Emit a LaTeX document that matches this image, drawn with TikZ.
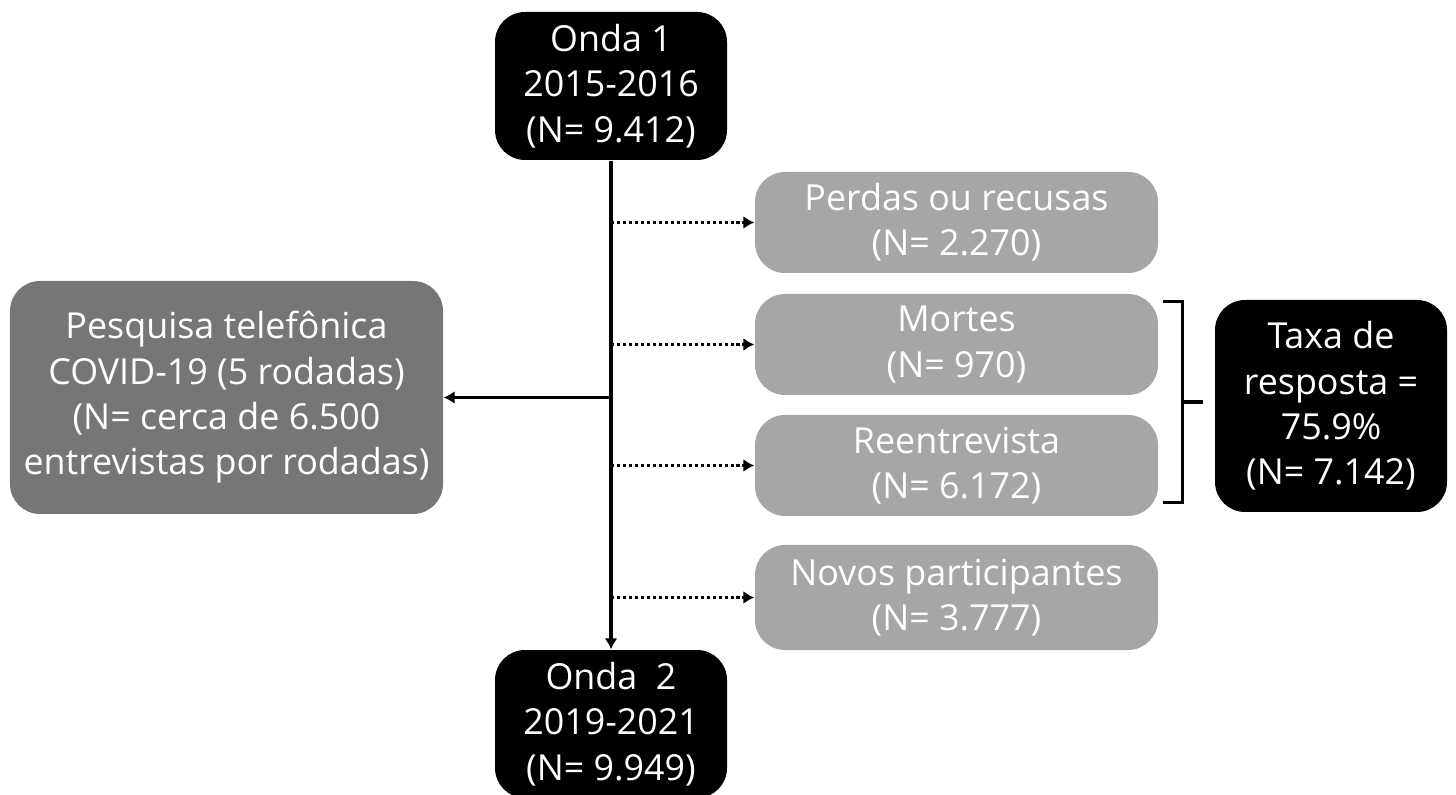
\documentclass[tikz,border=0pt]{standalone}
\usepackage{fontspec}
\setmainfont{Open Sans}
\usepackage{xcolor}
\usetikzlibrary{positioning, calc, arrows.meta}

\definecolor{darkbox}{HTML}{767676}
\definecolor{lightbox}{HTML}{A6A6A6}

\begin{document}
\begin{tikzpicture}[>={Latex[length=1.1mm,width=1.3mm]},
    box/.style={rounded corners=0.3cm, text=white, align=center,
        font=\fontsize{10.2}{12.9}\selectfont, inner sep=0pt},
    blackbox/.style={box, fill=black, minimum width=2.32cm, minimum height=1.48cm},
    graybox/.style={box, fill=lightbox, minimum width=4.03cm, minimum height=1.01cm},
    covidbox/.style={box, fill=darkbox, minimum width=4.33cm, minimum height=2.33cm},
    mainline/.style={line width=0.95pt},
    dotline/.style={line width=0.95pt, dash pattern=on 0.9pt off 0.8pt, ->}]

    \useasboundingbox (0,0) rectangle (14.56,-7.95);

    % Waves
    \node[blackbox] (onda1) at (6.11,-0.86) {Onda 1\\2015-2016\\(N= 9.412)};
    \node[blackbox] (onda2) at (6.11,-7.24) {Onda\ \ 2\\2019-2021\\(N= 9.949)};

    % Side boxes
    \node[covidbox] (covid) at (2.265,-3.975) {Pesquisa telefônica\\COVID-19 (5 rodadas)\\(N= cerca de 6.500\\entrevistas por rodadas)};
    \node[graybox] (perdas) at (9.565,-2.225) {Perdas ou recusas\\(N= 2.270)};
    \node[graybox] (mortes) at (9.565,-3.445) {Mortes\\(N= 970)};
    \node[graybox] (reent) at (9.565,-4.655) {Reentrevista\\(N= 6.172)};
    \node[graybox, minimum height=1.05cm] (novos) at (9.565,-5.975) {Novos participantes\\(N= 3.777)};
    \node[blackbox, minimum height=2.12cm] (taxa) at (13.31,-4.06) {Taxa de\\resposta =\\75.9\%\\(N= 7.142)};

    % Main line
    \draw[mainline, ->] (onda1) -- (onda2);
    \draw[mainline, ->] (onda1.south |- covid.east) -- (covid.east);

    % Dotted branches
    \draw[dotline] (onda1.south |- perdas.west) -- (perdas.west);
    \draw[dotline] (onda1.south |- mortes.west) -- (mortes.west);
    \draw[dotline] (onda1.south |- reent.west) -- (reent.west);
    \draw[dotline] (onda1.south |- novos.west) -- (novos.west);

    % Bracket
    \coordinate (btop) at ($(mortes.north east)+(0.04,-0.08)$);
    \coordinate (bbot) at ($(reent.south east)+(0.04,0.14)$);
    \draw[mainline] (btop) -- ++(0.2,0) |- (bbot);
    \draw[mainline] ($(btop)!0.5!(bbot)+(0.2,0)$) -- ++(0.2,0);

\end{tikzpicture}
\end{document}
